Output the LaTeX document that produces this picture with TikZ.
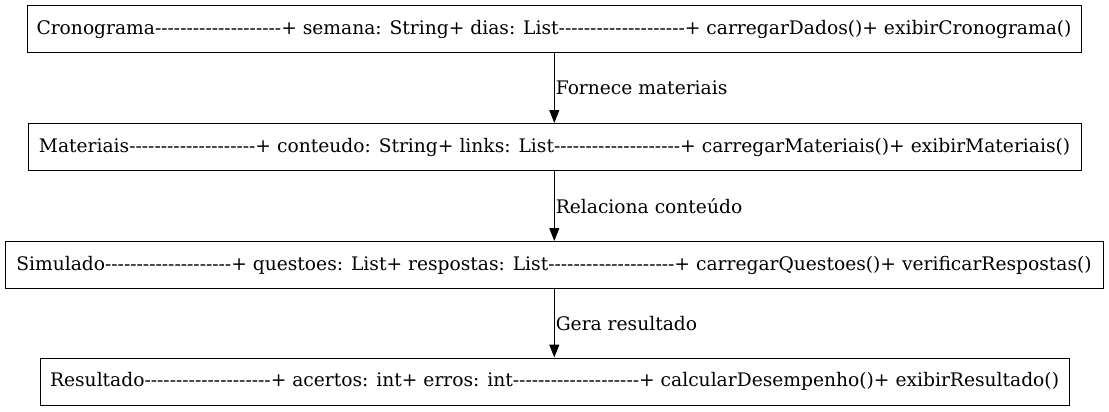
\documentclass[tikz,border=0pt]{standalone}
\usepackage{fontspec}
\setmainfont{DejaVu Serif}[Ligatures=TeXOff]
\usetikzlibrary{arrows.meta}
\begin{document}
\begin{tikzpicture}[x=1pt,y=-1pt,
  classbox/.style={draw=black, line width=1pt, minimum height=47pt, inner sep=0pt,
    font=\fontsize{18.67}{22}\selectfont, align=center},
  rel/.style={-{Triangle[length=13pt,width=10pt]}, line width=1pt},
  rellabel/.style={right, inner sep=1pt, font=\fontsize{18.67}{22}\selectfont}]
\useasboundingbox (0,0) rectangle (1109,412);
\def\dsh{--------------------}
\node[classbox, minimum width=1054pt] (c) at (554,29) {Cronograma\dsh+ semana: String+ dias: List\dsh+ carregarDados()+ exibirCronograma()};
\node[classbox, minimum width=1053pt] (m) at (554.5,147) {Materiais\dsh+ conteudo: String+ links: List\dsh+ carregarMateriais()+ exibirMateriais()};
\node[classbox, minimum width=1098pt] (s) at (554,265) {Simulado\dsh+ questoes: List+ respostas: List\dsh+ carregarQuestoes()+ verificarRespostas()};
\node[classbox, minimum width=1029pt] (r) at (554.5,381.5) {Resultado\dsh+ acertos: int+ erros: int\dsh+ calcularDesempenho()+ exibirResultado()};
\draw[rel] (c.south -| 554.3,0) -- node[rellabel] {Fornece materiais} (m.north -| 554.3,0);
\draw[rel] (m.south -| 554.3,0) -- node[rellabel] {Relaciona conteúdo} (s.north -| 554.3,0);
\draw[rel] (s.south -| 554.3,0) -- node[rellabel] {Gera resultado} (r.north -| 554.3,0);
\end{tikzpicture}
\end{document}
